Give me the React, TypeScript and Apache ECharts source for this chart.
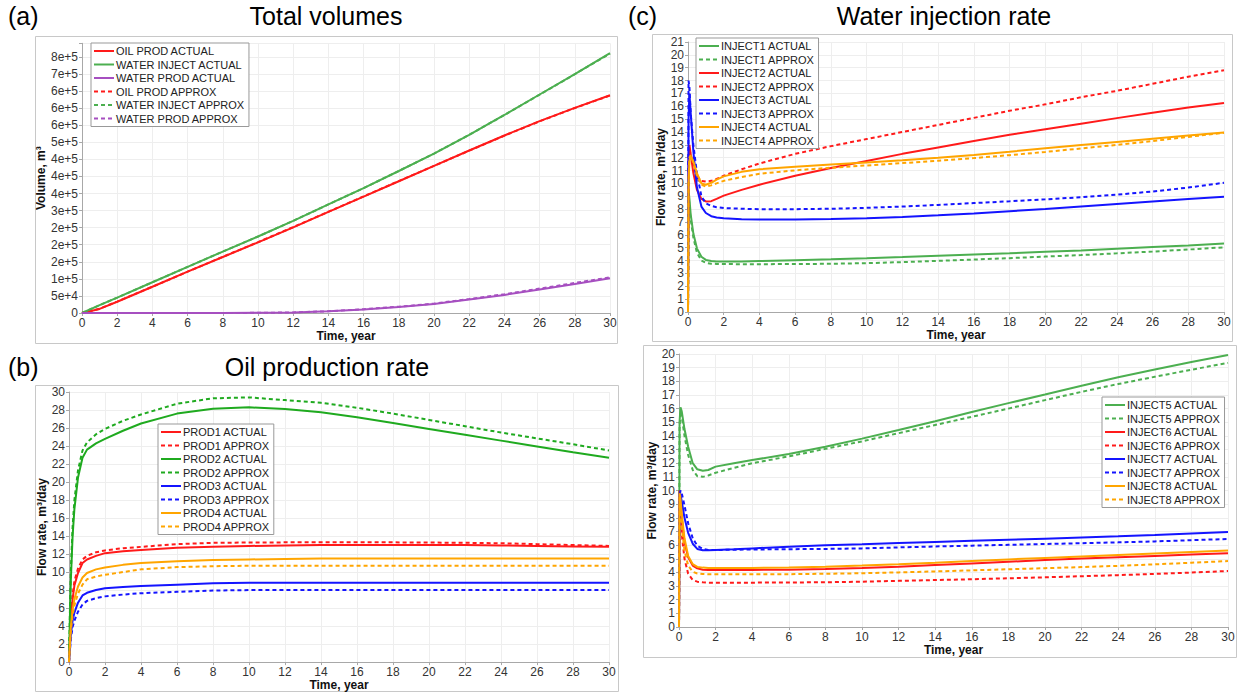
import React, { useEffect, useRef } from "react";
import * as echarts from "echarts";

// ---------- Panel (a): Total volumes ----------
const tA = [0, 1, 2, 4, 6, 8, 10, 12, 14, 16, 18, 20, 22, 24, 26, 28, 30];
const oilProdActual = [0, 12000, 33000, 77000, 121000, 164000, 207000, 251000, 296000, 341000, 386000, 431000, 476000, 520000, 562000, 601000, 638000];
const waterInjActual = [0, 23000, 45000, 90000, 135000, 180000, 224000, 270000, 318000, 366000, 416000, 467000, 522000, 580000, 640000, 700000, 761000];
const waterProdActual = [0, 0, 0, 0, 0, 0, 500, 1500, 5000, 10500, 17500, 26500, 39500, 53000, 69000, 85000, 101500];
const oilProdApprox = [0, 12500, 33500, 77000, 121000, 164500, 207500, 251500, 296500, 341500, 386500, 431000, 475500, 519500, 561500, 600500, 637000];
const waterInjApprox = [0, 23000, 45000, 90000, 135000, 180000, 224000, 270000, 318000, 366000, 416000, 467000, 522000, 580000, 639500, 699500, 760000];
const waterProdApprox = [0, 0, 0, 0, 0, 0, 500, 1600, 5200, 11000, 18500, 27500, 41000, 55000, 71500, 88000, 104500];
const yLabelsA = ["0", "5e+4", "1e+5", "2e+5", "2e+5", "2e+5", "3e+5", "4e+5", "4e+5", "4e+5", "5e+5", "6e+5", "6e+5", "6e+5", "7e+5", "8e+5"];

// ---------- Panel (b): Oil production rate ----------
const tB = [0, 0.05, 0.1, 0.2, 0.3, 0.5, 0.75, 1, 1.5, 2, 3, 4, 6, 8, 10, 12, 14, 16, 18, 20, 22, 24, 26, 28, 30];
const prod1Actual = [0, 2.5, 4.5, 7, 8.5, 9.9, 11, 11.4, 11.8, 12.1, 12.3, 12.45, 12.7, 12.8, 12.9, 12.95, 13.0, 13.0, 13.0, 13.0, 13.0, 12.95, 12.9, 12.85, 12.8];
const prod1Approx = [0, 2.8, 5, 7.5, 9, 10.4, 11.4, 11.8, 12.2, 12.4, 12.65, 12.8, 13.1, 13.25, 13.28, 13.3, 13.3, 13.3, 13.3, 13.28, 13.25, 13.2, 13.1, 13.0, 12.9];
const prod2Actual = [0, 5, 9, 14, 17, 20.5, 22.7, 23.6, 24.3, 24.8, 25.7, 26.5, 27.6, 28.15, 28.3, 28.1, 27.75, 27.2, 26.55, 25.9, 25.25, 24.6, 23.95, 23.3, 22.7];
const prod2Approx = [0, 5.5, 10, 15, 18, 21.3, 23.5, 24.4, 25.3, 25.9, 26.8, 27.5, 28.7, 29.3, 29.4, 29.1, 28.8, 28.25, 27.6, 26.9, 26.2, 25.5, 24.85, 24.2, 23.5];
const prod3Actual = [0, 1.5, 3, 4.6, 5.5, 6.6, 7.4, 7.7, 8.0, 8.2, 8.35, 8.45, 8.6, 8.75, 8.8, 8.8, 8.8, 8.8, 8.8, 8.8, 8.8, 8.8, 8.8, 8.8, 8.8];
const prod3Approx = [0, 1.2, 2.5, 3.9, 4.6, 5.6, 6.4, 6.8, 7.1, 7.3, 7.5, 7.65, 7.8, 7.95, 8.0, 8.0, 8.0, 8.0, 8.0, 8.0, 8.0, 8.0, 8.0, 8.0, 8.0];
const prod4Actual = [0, 2, 3.8, 5.8, 7, 8.4, 9.4, 9.9, 10.3, 10.5, 10.8, 11.0, 11.2, 11.35, 11.4, 11.45, 11.5, 11.5, 11.5, 11.5, 11.5, 11.5, 11.5, 11.5, 11.5];
const prod4Approx = [0, 1.8, 3.4, 5.2, 6.3, 7.6, 8.6, 9.2, 9.5, 9.7, 10.0, 10.3, 10.55, 10.65, 10.7, 10.7, 10.7, 10.7, 10.7, 10.7, 10.7, 10.7, 10.7, 10.7, 10.7];

// ---------- Panel (c): Water injection rate (INJECT1-4) ----------
const tC = [0, 0.03, 0.08, 0.15, 0.3, 0.5, 0.75, 1, 1.3, 1.6, 2, 3, 4, 6, 8, 10, 12, 14, 16, 18, 20, 22, 24, 26, 28, 30];
const inj1Actual = [0, 9.5, 8.8, 7.6, 6.1, 4.95, 4.3, 4.05, 3.97, 3.93, 3.92, 3.93, 3.96, 4.03, 4.1, 4.18, 4.27, 4.37, 4.47, 4.57, 4.68, 4.79, 4.92, 5.05, 5.18, 5.32];
const inj1Approx = [0, 9, 8.3, 7.2, 5.8, 4.6, 4.0, 3.82, 3.76, 3.74, 3.73, 3.72, 3.72, 3.73, 3.75, 3.8, 3.88, 3.98, 4.08, 4.19, 4.31, 4.43, 4.56, 4.7, 4.86, 5.03];
const inj2Actual = [0, 12, 13, 12.3, 10.8, 9.5, 8.8, 8.6, 8.62, 8.8, 9.05, 9.5, 9.9, 10.6, 11.2, 11.75, 12.3, 12.8, 13.3, 13.78, 14.22, 14.65, 15.08, 15.5, 15.9, 16.25];
const inj2Approx = [0, 12, 12.6, 12.3, 11.4, 10.6, 10.2, 10.15, 10.2, 10.35, 10.6, 11.1, 11.55, 12.3, 12.9, 13.45, 14.0, 14.55, 15.1, 15.65, 16.15, 16.7, 17.2, 17.75, 18.3, 18.8];
const inj3Actual = [0, 15, 17, 15.5, 12.5, 9.7, 8.2, 7.7, 7.45, 7.35, 7.3, 7.22, 7.2, 7.2, 7.23, 7.29, 7.39, 7.52, 7.67, 7.84, 8.02, 8.21, 8.4, 8.59, 8.78, 8.97];
const inj3Approx = [0, 18, 17.5, 15.5, 13, 10.8, 9.0, 8.45, 8.25, 8.15, 8.08, 8.03, 8.0, 8.0, 8.03, 8.1, 8.2, 8.33, 8.47, 8.61, 8.76, 8.93, 9.13, 9.37, 9.68, 10.05];
const inj4Actual = [0, 10, 11.8, 12.1, 11.7, 10.8, 10.0, 9.9, 10.05, 10.3, 10.55, 10.9, 11.1, 11.3, 11.47, 11.63, 11.8, 12.0, 12.22, 12.47, 12.73, 12.98, 13.23, 13.48, 13.73, 13.97];
const inj4Approx = [0, 10.5, 12.0, 12.2, 11.6, 10.6, 9.9, 9.75, 9.85, 10.0, 10.2, 10.5, 10.75, 11.02, 11.22, 11.4, 11.58, 11.76, 11.97, 12.2, 12.45, 12.72, 13.0, 13.3, 13.62, 13.94];

// ---------- Panel (d): Water injection rate (INJECT5-8) ----------
const tD = tC;
const inj5Actual = [0, 15, 16.1, 15.8, 14.5, 13.2, 12.0, 11.55, 11.45, 11.5, 11.75, 12.0, 12.23, 12.67, 13.2, 13.8, 14.43, 15.08, 15.75, 16.4, 17.03, 17.67, 18.3, 18.87, 19.42, 19.93];
const inj5Approx = [0, 14.5, 15.8, 15.4, 14.0, 12.6, 11.5, 11.05, 11.0, 11.1, 11.3, 11.65, 12.0, 12.5, 13.05, 13.6, 14.2, 14.8, 15.4, 16.0, 16.62, 17.23, 17.8, 18.33, 18.85, 19.35];
const inj6Actual = [0, 10, 9.3, 8.0, 6.2, 5.1, 4.5, 4.3, 4.2, 4.18, 4.18, 4.18, 4.18, 4.2, 4.25, 4.32, 4.42, 4.54, 4.66, 4.78, 4.9, 5.01, 5.11, 5.21, 5.31, 5.4];
const inj6Approx = [0, 9.5, 8.5, 6.8, 5.0, 3.9, 3.45, 3.32, 3.27, 3.25, 3.25, 3.25, 3.25, 3.26, 3.28, 3.32, 3.38, 3.44, 3.5, 3.57, 3.64, 3.72, 3.8, 3.89, 3.99, 4.1];
const inj7Actual = [0, 9.8, 9.7, 9.2, 8.0, 6.9, 6.1, 5.72, 5.62, 5.62, 5.65, 5.7, 5.76, 5.88, 5.98, 6.06, 6.15, 6.23, 6.31, 6.39, 6.47, 6.55, 6.64, 6.74, 6.85, 6.96];
const inj7Approx = [0, 9.5, 10.0, 9.8, 8.9, 7.6, 6.5, 5.95, 5.72, 5.65, 5.64, 5.66, 5.68, 5.7, 5.72, 5.76, 5.83, 5.9, 5.96, 6.02, 6.08, 6.14, 6.2, 6.27, 6.36, 6.45];
const inj8Actual = [0, 9.8, 9.4, 8.3, 6.5, 5.2, 4.6, 4.4, 4.35, 4.33, 4.33, 4.33, 4.33, 4.36, 4.42, 4.5, 4.6, 4.71, 4.83, 4.95, 5.06, 5.17, 5.28, 5.39, 5.5, 5.6];
const inj8Approx = [0, 9.6, 8.8, 7.3, 5.6, 4.5, 4.05, 3.92, 3.88, 3.86, 3.86, 3.86, 3.86, 3.87, 3.9, 3.94, 4.0, 4.07, 4.15, 4.23, 4.31, 4.39, 4.48, 4.59, 4.71, 4.83];

const RED = "#ff1a1a";
const GREEN_I = "#4caf50";
const GREEN_P = "#1faa1f";
const BLUE = "#1414ff";
const ORANGE = "#ffa500";
const PURPLE = "#a64fc0";
const FONT = "Liberation Sans, Arial, sans-serif";

const zip = (t: number[], v: number[]) => t.map((x, i) => [x, v[i]]);

function mk(name: string, idx: number, t: number[], v: number[], color: string, dashed: boolean) {
  return {
    name,
    type: "line",
    xAxisIndex: idx,
    yAxisIndex: idx,
    data: zip(t, v),
    symbol: "none",
    smooth: false,
    color,
    lineStyle: { color, width: 2, type: dashed ? [4, 3] : "solid" },
  };
}

function xAxis(gridIndex: number) {
  return {
    type: "value",
    gridIndex,
    min: 0,
    max: 30,
    interval: 2,
    name: "Time, year",
    nameLocation: "middle",
    nameGap: 14,
    nameTextStyle: { fontFamily: FONT, fontWeight: "bold", fontSize: 12, color: "#111" },
    axisLine: { show: true, lineStyle: { color: "#a8a8a8", width: 1 } },
    axisTick: { show: true, length: 3, lineStyle: { color: "#a8a8a8" } },
    axisLabel: { fontFamily: FONT, fontSize: 12, color: "#333", margin: 4 },
    splitLine: { show: true, lineStyle: { color: "#eeeeee", width: 1 } },
  };
}

function yAxis(gridIndex: number, max: number, interval: number, name: string, nameGap: number, formatter?: any) {
  return {
    type: "value",
    gridIndex,
    min: 0,
    max,
    interval,
    name,
    nameLocation: "middle",
    nameGap,
    nameTextStyle: { fontFamily: FONT, fontWeight: "bold", fontSize: 12, color: "#111" },
    axisLine: { show: true, lineStyle: { color: "#a8a8a8", width: 1 } },
    axisTick: { show: true, length: 3, lineStyle: { color: "#a8a8a8" } },
    axisLabel: { fontFamily: FONT, fontSize: 12, color: "#333", margin: 4, formatter },
    splitLine: { show: true, lineStyle: { color: "#eeeeee", width: 1 } },
  };
}

function legend(names: string[], left: number, top: number) {
  return {
    data: names,
    orient: "vertical",
    left,
    top,
    backgroundColor: "#fff",
    borderColor: "#999",
    borderWidth: 1,
    borderRadius: 0,
    padding: [2, 4, 2, 2],
    itemGap: 1.5,
    itemWidth: 20,
    itemHeight: 12,
    itemStyle: { color: "rgba(0,0,0,0)", opacity: 0, borderWidth: 0 },
    textStyle: { fontFamily: FONT, fontSize: 11, color: "#222", padding: [0, 0, 0, -3], lineHeight: 12 },
  };
}

const titleStyle = { fontFamily: FONT, fontSize: 25, fontWeight: "normal", color: "#000" };

export default function App() {
  const ref = useRef<HTMLDivElement>(null);
  useEffect(() => {
    if (!ref.current) return;
    const chart = echarts.init(ref.current, undefined, { renderer: "svg" });

    const seriesA = [
      mk("OIL PROD ACTUAL", 0, tA, oilProdActual, RED, false),
      mk("WATER INJECT ACTUAL", 0, tA, waterInjActual, GREEN_I, false),
      mk("WATER PROD ACTUAL", 0, tA, waterProdActual, PURPLE, false),
      mk("OIL PROD APPROX", 0, tA, oilProdApprox, RED, true),
      mk("WATER INJECT APPROX", 0, tA, waterInjApprox, GREEN_I, true),
      mk("WATER PROD APPROX", 0, tA, waterProdApprox, PURPLE, true),
    ];
    const seriesB = [
      mk("PROD1 ACTUAL", 1, tB, prod1Actual, RED, false),
      mk("PROD1 APPROX", 1, tB, prod1Approx, RED, true),
      mk("PROD2 ACTUAL", 1, tB, prod2Actual, GREEN_P, false),
      mk("PROD2 APPROX", 1, tB, prod2Approx, GREEN_P, true),
      mk("PROD3 ACTUAL", 1, tB, prod3Actual, BLUE, false),
      mk("PROD3 APPROX", 1, tB, prod3Approx, BLUE, true),
      mk("PROD4 ACTUAL", 1, tB, prod4Actual, ORANGE, false),
      mk("PROD4 APPROX", 1, tB, prod4Approx, ORANGE, true),
    ];
    const seriesC = [
      mk("INJECT1 ACTUAL", 2, tC, inj1Actual, GREEN_I, false),
      mk("INJECT1 APPROX", 2, tC, inj1Approx, GREEN_I, true),
      mk("INJECT2 ACTUAL", 2, tC, inj2Actual, RED, false),
      mk("INJECT2 APPROX", 2, tC, inj2Approx, RED, true),
      mk("INJECT3 ACTUAL", 2, tC, inj3Actual, BLUE, false),
      mk("INJECT3 APPROX", 2, tC, inj3Approx, BLUE, true),
      mk("INJECT4 ACTUAL", 2, tC, inj4Actual, ORANGE, false),
      mk("INJECT4 APPROX", 2, tC, inj4Approx, ORANGE, true),
    ];
    const seriesD = [
      mk("INJECT5 ACTUAL", 3, tD, inj5Actual, GREEN_I, false),
      mk("INJECT5 APPROX", 3, tD, inj5Approx, GREEN_I, true),
      mk("INJECT6 ACTUAL", 3, tD, inj6Actual, RED, false),
      mk("INJECT6 APPROX", 3, tD, inj6Approx, RED, true),
      mk("INJECT7 ACTUAL", 3, tD, inj7Actual, BLUE, false),
      mk("INJECT7 APPROX", 3, tD, inj7Approx, BLUE, true),
      mk("INJECT8 ACTUAL", 3, tD, inj8Actual, ORANGE, false),
      mk("INJECT8 APPROX", 3, tD, inj8Approx, ORANGE, true),
    ];

    const fmtA = (v: number) => {
      const i = v / 50000;
      return Number.isInteger(i) && i < yLabelsA.length ? yLabelsA[i] : "";
    };

    const frame = (x: number, y: number, w: number, h: number) => ({
      type: "rect",
      z: -10,
      silent: true,
      shape: { x: x + 0.5, y: y + 0.5, width: w, height: h },
      style: { fill: "none", stroke: "#c8c8c8", lineWidth: 1 },
    });

    chart.setOption({
      animation: false,
      backgroundColor: "#fff",
      title: [
        { text: "(a)", left: 8, top: 3, padding: 0, textStyle: titleStyle },
        { text: "Total volumes", left: 326, textAlign: "center", top: 3, padding: 0, textStyle: titleStyle },
        { text: "(b)", left: 8, top: 354, padding: 0, textStyle: titleStyle },
        { text: "Oil production rate", left: 327, textAlign: "center", top: 354, padding: 0, textStyle: titleStyle },
        { text: "(c)", left: 628, top: 3, padding: 0, textStyle: titleStyle },
        { text: "Water injection rate", left: 944, textAlign: "center", top: 3, padding: 0, textStyle: titleStyle },
      ],
      graphic: {
        elements: [
          frame(35, 36, 582, 307),
          frame(35, 385, 583, 306),
          frame(652, 34, 580, 307),
          frame(643, 345, 593, 312),
        ],
      },
      grid: [
        { left: 82, right: 1241 - 610, top: 43.3, bottom: 692 - 313 },
        { left: 69, right: 1241 - 609, top: 392, bottom: 692 - 663 },
        { left: 688, right: 1241 - 1224, top: 42, bottom: 692 - 312 },
        { left: 679, right: 1241 - 1228, top: 354, bottom: 692 - 627 },
      ],
      xAxis: [xAxis(0), xAxis(1), xAxis(2), xAxis(3)],
      yAxis: [
        yAxis(0, 790000, 50000, "Volume, m³", 31, fmtA),
        yAxis(1, 30, 2, "Flow rate, m³/day", 15),
        yAxis(2, 21, 1, "Flow rate, m³/day", 19),
        yAxis(3, 20, 1, "Flow rate, m³/day", 19),
      ],
      legend: [
        legend(seriesA.map((s) => s.name), 91, 43),
        legend(seriesB.map((s) => s.name), 158, 424),
        legend(seriesC.map((s) => s.name), 696, 38),
        legend(seriesD.map((s) => s.name), 1102, 397),
      ],
      series: [...seriesA, ...seriesB, ...seriesC, ...seriesD],
    });

    return () => chart.dispose();
  }, []);

  return (
    <div
      ref={ref}
      style={{ position: "absolute", left: 0, top: 0, width: 1241, height: 692, background: "#fff" }}
    />
  );
}
